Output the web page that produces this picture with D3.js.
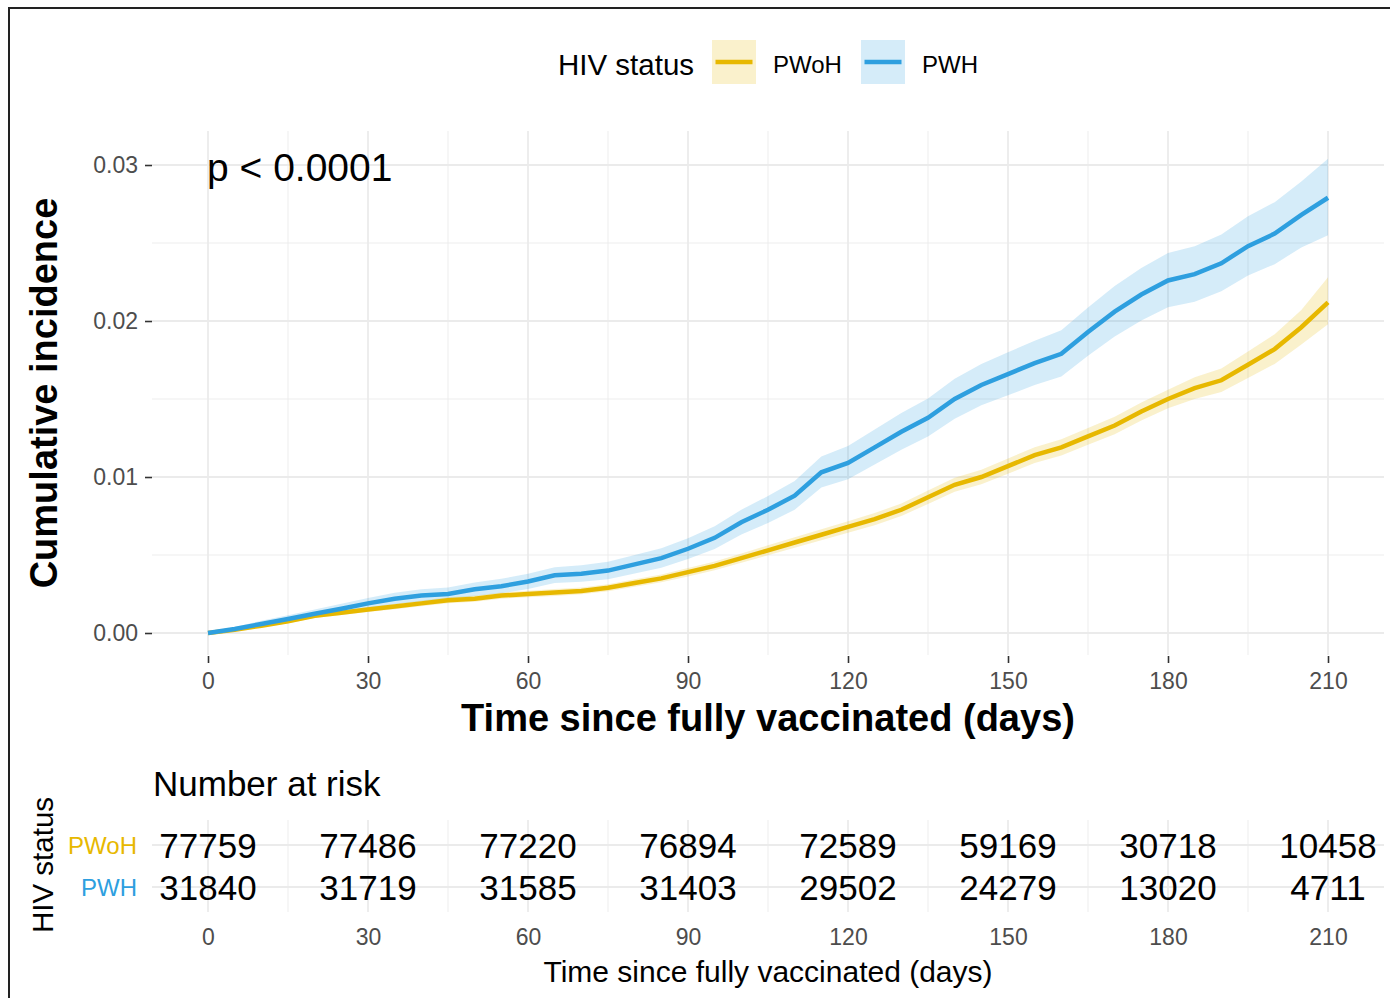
<!DOCTYPE html>
<html><head><meta charset="utf-8">
<script src="https://cdn.jsdelivr.net/npm/d3@7"></script>
<style>
body{margin:0;background:#fff}
text{font-family:"Liberation Sans",Arial,Helvetica,sans-serif}
</style>
</head><body>
<svg id="c" width="1390" height="998"></svg>
<script>
// ---------- data ----------
const groups = ["PWoH", "PWH"];
const groupColors = ["#E7B800", "#2E9FDF"];
const days = [0,5,10,15,20,25,30,35,40,45,50,55,60,65,70,75,80,85,90,95,100,105,110,115,120,125,130,135,140,145,150,155,160,165,170,175,180,185,190,195,200,205,210];

const pwohEst = [0,0.0002,0.00047,0.00075,0.0011,0.0013,0.0015,0.0017,0.0019,0.0021,0.0022,0.0024,0.0025,0.0026,0.0027,0.0029,0.0032,0.0035,0.0039,0.0043,0.0048,0.0053,0.0058,0.0063,0.0068,0.0073,0.0079,0.0087,0.0095,0.0100,0.0107,0.0114,0.0119,0.0126,0.0133,0.0142,0.0150,0.0157,0.0162,0.0172,0.0182,0.0196,0.0212];
const pwohLower = [0,0.00014,0.00037,0.00063,0.00096,0.00115,0.00134,0.00153,0.00172,0.00191,0.0020,0.0022,0.00229,0.00238,0.00248,0.00267,0.00296,0.00325,0.00363,0.00402,0.0045,0.00498,0.00546,0.00595,0.00643,0.00691,0.0075,0.00827,0.00905,0.00953,0.01021,0.0109,0.01138,0.01206,0.01274,0.01362,0.0144,0.0150,0.01545,0.01635,0.01725,0.0185,0.0198];
const pwohUpper = [0,0.00026,0.00057,0.00087,0.00124,0.00145,0.00166,0.00187,0.00208,0.00229,0.0024,0.0026,0.00271,0.00282,0.00292,0.00313,0.00344,0.00375,0.00417,0.00458,0.0051,0.00562,0.00614,0.00665,0.00717,0.00769,0.0083,0.00913,0.00995,0.01047,0.01119,0.0119,0.01242,0.01314,0.01386,0.01478,0.0156,0.0164,0.01695,0.01805,0.01915,0.0207,0.0228];

const pwhEst = [0,0.00026,0.00058,0.0009,0.00123,0.00155,0.0019,0.0022,0.0024,0.0025,0.0028,0.0030,0.0033,0.0037,0.0038,0.0040,0.0044,0.0048,0.0054,0.0061,0.0071,0.0079,0.0088,0.0103,0.0109,0.0119,0.0129,0.0138,0.0150,0.0159,0.0166,0.0173,0.0179,0.0193,0.0206,0.0217,0.0226,0.0230,0.0237,0.0248,0.0256,0.0268,0.0279];
const pwhLower = [0,0.00016,0.0004,0.00068,0.00097,0.00125,0.00157,0.00184,0.00202,0.0021,0.00238,0.00255,0.00282,0.0032,0.00328,0.00345,0.00382,0.00418,0.00474,0.00538,0.00632,0.00705,0.0079,0.00932,0.00986,0.0108,0.01174,0.0126,0.01374,0.0146,0.01524,0.0159,0.01644,0.01778,0.019,0.02004,0.02088,0.02124,0.0219,0.02292,0.02364,0.02472,0.0255];
const pwhUpper = [0,0.00038,0.00078,0.00114,0.00151,0.00187,0.00225,0.00258,0.0028,0.00292,0.00324,0.00347,0.0038,0.00422,0.00434,0.00457,0.005,0.00544,0.00608,0.00684,0.0079,0.00878,0.00974,0.01132,0.01198,0.01304,0.0141,0.01504,0.0163,0.01724,0.018,0.01874,0.0194,0.02086,0.02224,0.0234,0.02436,0.0248,0.02554,0.02672,0.02762,0.02894,0.0304];

const xTicks = [0,30,60,90,120,150,180,210];
const xMinor = [15,45,75,105,135,165,195];
const yTicks = [0,0.01,0.02,0.03];
const yTickLabels = ["0.00","0.01","0.02","0.03"];
const yMinor = [0.005,0.015,0.025];

const riskTimes = [0,30,60,90,120,150,180,210];
const riskPWoH = [77759,77486,77220,76894,72589,59169,30718,10458];
const riskPWH = [31840,31719,31585,31403,29502,24279,13020,4711];

const pValueText = "p < 0.0001";
const yTitle = "Cumulative incidence";
const xTitle = "Time since fully vaccinated (days)";
const legendTitle = "HIV status";
const riskTitle = "Number at risk";

// ---------- layout ----------
const svg = d3.select("#c");
const panel = {left:152, right:1384, top:131, bottom:655};
const tpanel = {top:820, bottom:912};

const x = d3.scaleLinear().domain([-10.5, 220.5]).range([panel.left, panel.right]);
const y = d3.scaleLinear().domain([-0.00141, 0.03218]).range([panel.bottom, panel.top]);
const yRisk = d3.scalePoint().domain(groups).range([845, 887]);

const series = [
  {name: groups[0], color: groupColors[0], est: pwohEst, lo: pwohLower, hi: pwohUpper},
  {name: groups[1], color: groupColors[1], est: pwhEst, lo: pwhLower, hi: pwhUpper}
];

// outer frame
svg.append("rect").attr("x", 9).attr("y", 8).attr("width", 1400).attr("height", 1010)
  .attr("fill", "none").attr("stroke", "#222").attr("stroke-width", 2);

// ---------- main panel grid ----------
const grid = svg.append("g");
grid.selectAll(".ymin").data(yMinor).join("line")
  .attr("x1", panel.left).attr("x2", panel.right)
  .attr("y1", d => y(d)).attr("y2", d => y(d))
  .attr("stroke", "#ebebeb").attr("stroke-width", 0.9);
grid.selectAll(".xmin").data(xMinor).join("line")
  .attr("y1", panel.top).attr("y2", panel.bottom)
  .attr("x1", d => x(d)).attr("x2", d => x(d))
  .attr("stroke", "#ebebeb").attr("stroke-width", 0.9);
grid.selectAll(".ymaj").data(yTicks).join("line")
  .attr("x1", panel.left).attr("x2", panel.right)
  .attr("y1", d => y(d)).attr("y2", d => y(d))
  .attr("stroke", "#ebebeb").attr("stroke-width", 1.8);
grid.selectAll(".xmaj").data(xTicks).join("line")
  .attr("y1", panel.top).attr("y2", panel.bottom)
  .attr("x1", d => x(d)).attr("x2", d => x(d))
  .attr("stroke", "#ebebeb").attr("stroke-width", 1.8);

// ---------- bands and lines ----------
const area = d3.area()
  .x((d, i) => x(days[i]))
  .y0(d => y(d[0])).y1(d => y(d[1]))
  .curve(d3.curveLinear);
const line = d3.line()
  .x((d, i) => x(days[i])).y(d => y(d))
  .curve(d3.curveLinear);

series.forEach(s => {
  const pts = s.lo.map((v, i) => [v, s.hi[i]]);
  svg.append("path").datum(pts).attr("d", area)
    .attr("fill", s.color).attr("fill-opacity", 0.2).attr("stroke", "none");
});
series.forEach(s => {
  svg.append("path").datum(s.est).attr("d", line)
    .attr("fill", "none").attr("stroke", s.color).attr("stroke-width", 4.5)
    .attr("stroke-linejoin", "miter");
});

// ---------- axes ----------
const yAxis = svg.append("g").attr("transform", `translate(${panel.left},0)`)
  .call(d3.axisLeft(y).tickValues(yTicks).tickFormat((d, i) => yTickLabels[i]).tickSize(7).tickPadding(7));
yAxis.select(".domain").remove();
yAxis.selectAll("line").attr("stroke", "#333").attr("stroke-width", 1.6);
yAxis.selectAll("text").attr("font-size", 23).attr("fill", "#4d4d4d")
  .style("font-family", '"Liberation Sans", Arial, sans-serif');

const xAxis = svg.append("g").attr("transform", `translate(0,${panel.bottom + 1})`)
  .call(d3.axisBottom(x).tickValues(xTicks).tickSize(7).tickPadding(10));
xAxis.select(".domain").remove();
xAxis.selectAll("line").attr("stroke", "#333").attr("stroke-width", 1.6);
xAxis.selectAll("text").attr("font-size", 23).attr("fill", "#4d4d4d")
  .style("font-family", '"Liberation Sans", Arial, sans-serif');

// titles
svg.append("text").attr("transform", "translate(57,393) rotate(-90)")
  .attr("text-anchor", "middle").attr("font-size", 38).attr("font-weight", "bold")
  .attr("fill", "#000").text(yTitle);
svg.append("text").attr("x", 768).attr("y", 731)
  .attr("text-anchor", "middle").attr("font-size", 38).attr("font-weight", "bold")
  .attr("fill", "#000").text(xTitle);

// p-value
svg.append("text").attr("x", 207).attr("y", 181)
  .attr("font-size", 39).attr("fill", "#000").text(pValueText);

// ---------- legend ----------
const leg = svg.append("g");
leg.append("text").attr("x", 558).attr("y", 75).attr("font-size", 29.5)
  .attr("fill", "#000").text(legendTitle);
const legendX = [712, 861];
series.forEach((s, i) => {
  const bx = legendX[i];
  leg.append("rect").attr("x", bx).attr("y", 40).attr("width", 44).attr("height", 44)
    .attr("fill", s.color).attr("fill-opacity", 0.2);
  leg.append("line").attr("x1", bx + 3.5).attr("x2", bx + 40.5).attr("y1", 62).attr("y2", 62)
    .attr("stroke", s.color).attr("stroke-width", 4.5);
  leg.append("text").attr("x", bx + 61).attr("y", 73).attr("font-size", 24)
    .attr("fill", "#000").text(s.name);
});

// ---------- risk table ----------
svg.append("text").attr("x", 153).attr("y", 796).attr("font-size", 35)
  .attr("fill", "#000").text(riskTitle);

const tg = svg.append("g");
tg.selectAll(".txmin").data(xMinor).join("line")
  .attr("y1", tpanel.top).attr("y2", tpanel.bottom)
  .attr("x1", d => x(d)).attr("x2", d => x(d))
  .attr("stroke", "#ebebeb").attr("stroke-width", 0.9);
tg.selectAll(".txmaj").data(xTicks).join("line")
  .attr("y1", tpanel.top).attr("y2", tpanel.bottom)
  .attr("x1", d => x(d)).attr("x2", d => x(d))
  .attr("stroke", "#ebebeb").attr("stroke-width", 1.8);
tg.selectAll(".tymaj").data(groups).join("line")
  .attr("x1", panel.left).attr("x2", panel.right)
  .attr("y1", d => yRisk(d)).attr("y2", d => yRisk(d))
  .attr("stroke", "#ebebeb").attr("stroke-width", 1.8);

const riskRows = [riskPWoH, riskPWH];
riskRows.forEach((row, gi) => {
  svg.append("g").selectAll("text").data(row).join("text")
    .attr("x", (d, i) => x(riskTimes[i]))
    .attr("y", yRisk(groups[gi]))
    .attr("dy", "0.36em")
    .attr("text-anchor", "middle").attr("font-size", 35).attr("fill", "#000")
    .text(d => d);
});

// group labels
svg.append("g").selectAll("text").data(groups).join("text")
  .attr("x", 137).attr("y", d => yRisk(d)).attr("dy", "0.36em")
  .attr("text-anchor", "end").attr("font-size", 24)
  .attr("fill", (d, i) => groupColors[i]).text(d => d);

svg.append("text").attr("transform", "translate(53,865) rotate(-90)")
  .attr("text-anchor", "middle").attr("font-size", 29.5).attr("fill", "#000").text(legendTitle);

const tAxis = svg.append("g").attr("transform", `translate(0,${tpanel.bottom})`)
  .call(d3.axisBottom(x).tickValues(riskTimes).tickSize(0).tickPadding(17));
tAxis.select(".domain").remove();
tAxis.selectAll("text").attr("font-size", 23).attr("fill", "#4d4d4d")
  .style("font-family", '"Liberation Sans", Arial, sans-serif');

svg.append("text").attr("x", 768).attr("y", 982)
  .attr("text-anchor", "middle").attr("font-size", 30).attr("fill", "#000").text(xTitle);
</script>
</body></html>
